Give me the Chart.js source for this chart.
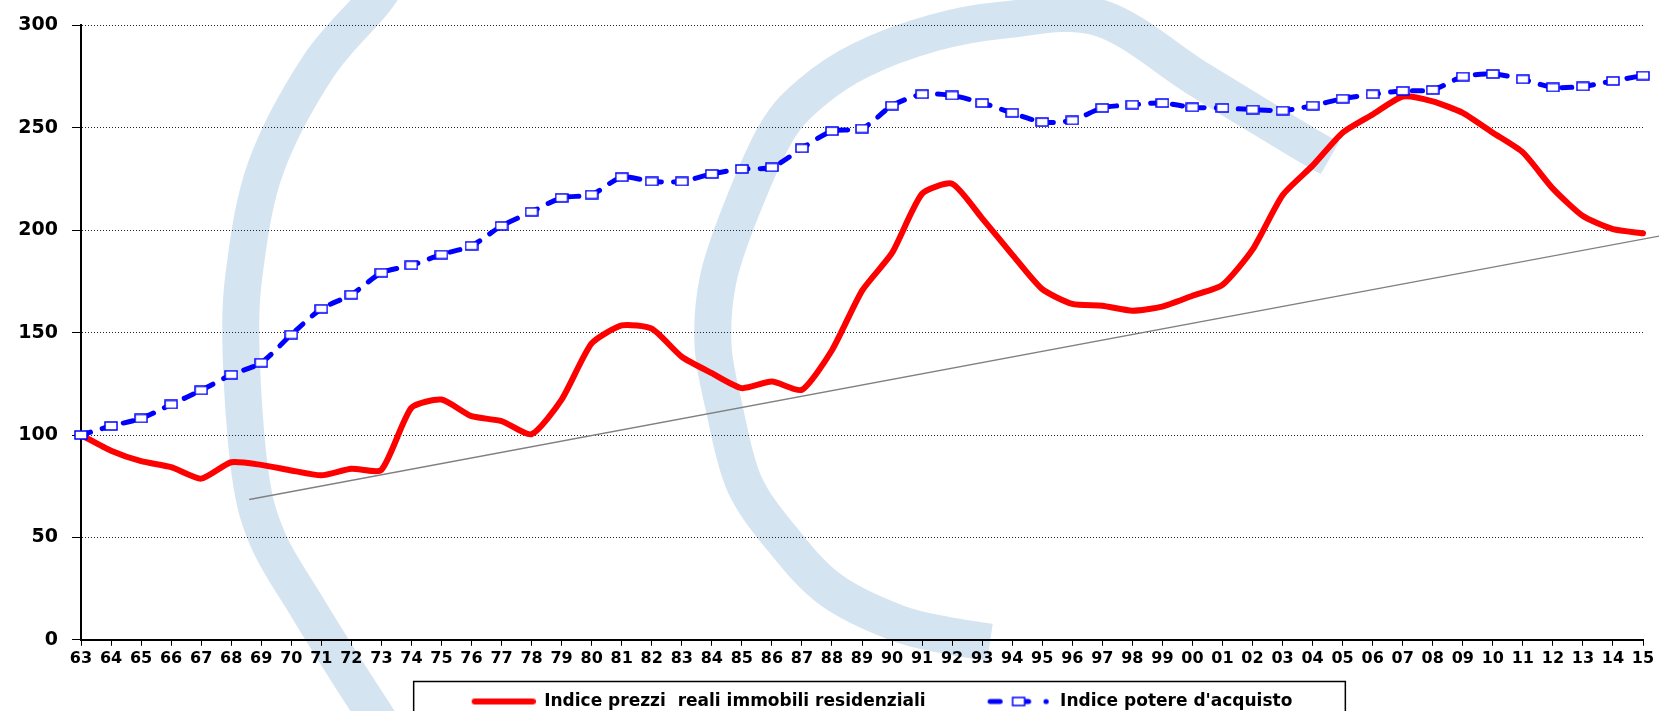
<!DOCTYPE html>
<html>
<head>
<meta charset="utf-8">
<script src="https://cdn.jsdelivr.net/npm/chart.js@4.4.1/dist/chart.umd.min.js"></script>
<style>
  html, body { margin: 0; padding: 0; background: #fff; overflow: hidden; }
  #wrap { width: 1659px; height: 711px; overflow: hidden; }
</style>
</head>
<body>
<div id="wrap"><canvas id="grafico" width="1659" height="720"></canvas></div>
<script>
// anni 1963-2015
const anni = ['63','64','65','66','67','68','69','70','71','72','73','74','75','76','77','78','79',
  '80','81','82','83','84','85','86','87','88','89','90','91','92','93','94','95','96','97','98','99',
  '00','01','02','03','04','05','06','07','08','09','10','11','12','13','14','15'];

const prezziReali = [100, 92.3, 87.2, 84.3, 78.7, 86.7, 85.4, 82.7, 80.3, 83.5, 83.0, 113.3, 117.3, 109.2, 106.8, 100.4,
  117.3, 144.7, 153.5, 151.9, 138.2, 130.2, 122.9, 126.1, 122.1, 141.4, 170.4, 188.9, 217.8, 222.7, 205.8, 188.1, 171.2, 164.0, 163.1, 160.7, 162.7,
  168.0, 173.3, 190.5, 217.1, 231.5, 247.6, 256.5, 265.3, 262.9, 257.3, 247.6, 238.0, 220.3, 206.9, 200.5, 198.5];

const potereAcquisto = [100, 104.4, 108.1, 114.9, 121.8, 129.4, 135.3, 149.0, 161.6, 168.5, 179.2, 182.9, 188.1, 192.4, 202.1, 209.0,
  215.8, 217.4, 225.9, 223.8, 223.8, 227.5, 229.9, 230.7, 240.0, 248.4, 249.6, 260.8, 266.4, 265.8, 262.1, 257.3, 252.8, 253.6, 259.7, 261.3, 262.1,
  260.0, 259.7, 258.9, 258.4, 260.8, 264.2, 266.4, 268.0, 268.5, 275.0, 276.3, 273.7, 269.7, 270.2, 272.9, 275.5];

// retta di tendenza (posizione sull'asse anni, valore)
const trendX = [5.6, 52.6];
const trendY = [68.5, 197.3];

const nomeRosso = 'Indice prezzi  reali immobili residenziali';
const nomeBlu = "Indice potere d'acquisto";

const ROSSO = '#ff0000';
const BLU = '#0000ff';

function marcatore() {
  const c = document.createElement('canvas');
  c.width = 14; c.height = 10;
  const g = c.getContext('2d');
  g.fillStyle = '#fff';
  g.fillRect(1, 1, 12, 8);
  g.strokeStyle = BLU;
  g.lineWidth = 1.5;
  g.strokeRect(1, 1, 12, 8);
  return c;
}

function campioneRosso() {
  const c = document.createElement('canvas');
  c.width = 104; c.height = 8;
  const g = c.getContext('2d');
  g.strokeStyle = ROSSO;
  g.lineWidth = 6;
  g.lineCap = 'round';
  g.beginPath(); g.moveTo(43, 4); g.lineTo(101, 4); g.stroke();
  return c;
}

function campioneBlu() {
  const c = document.createElement('canvas');
  c.width = 104; c.height = 14;
  const g = c.getContext('2d');
  g.strokeStyle = BLU; g.fillStyle = BLU;
  g.lineWidth = 5; g.lineCap = 'round';
  g.beginPath(); g.moveTo(42.5, 7); g.lineTo(52.5, 7); g.stroke();
  g.beginPath(); g.moveTo(76, 7); g.lineTo(81, 7); g.stroke();
  g.beginPath(); g.arc(98.5, 7, 2.6, 0, Math.PI * 2); g.fill();
  g.fillStyle = '#fff';
  g.fillRect(65, 3, 12, 8);
  g.lineWidth = 1.5;
  g.strokeRect(65, 3, 12, 8);
  return c;
}

// logo in filigrana
const arco1 = [[400,-40],[375,0],[318,67],[266,167],[245,267],[241,350],[250,473],[268,540],[307,607],[348,673],[385,730]];
const arco2 = [[990,642],[950,636],[897,623],[831,590],[783,540],[744,483],[724,407],[713,345],[718,280],[740,213],[776,133],
  [811,93],[861,60],[933,33],[1004,20],[1100,18],[1200,80],[1300,141],[1330,158]];

function curva(ctx, p) {
  ctx.beginPath();
  ctx.moveTo(p[0][0], p[0][1]);
  for (let i = 0; i < p.length - 1; i++) {
    const a = p[i - 1] || p[i], b = p[i], c = p[i + 1], d = p[i + 2] || c;
    ctx.bezierCurveTo(b[0] + (c[0] - a[0]) / 6, b[1] + (c[1] - a[1]) / 6,
                      c[0] - (d[0] - b[0]) / 6, c[1] - (d[1] - b[1]) / 6, c[0], c[1]);
  }
  ctx.stroke();
}

const sfondo = {
  id: 'sfondo',
  beforeDraw(chart) {
    const ctx = chart.ctx;
    ctx.save();
    ctx.fillStyle = '#fff';
    ctx.fillRect(0, 0, chart.width, chart.height);
    ctx.strokeStyle = '#d5e4f1';
    ctx.lineWidth = 37;
    ctx.lineCap = 'butt';
    curva(ctx, arco1);
    curva(ctx, arco2);
    // riquadro legenda
    const hb = chart.legend.legendHitBoxes;
    if (hb && hb.length === 2) {
      const x1 = hb[0].left + 40 - 58;
      const x2 = hb[1].left + hb[1].width + 53;
      const y1 = hb[0].top + hb[0].height / 2 - 20;
      ctx.fillStyle = '#fff';
      ctx.fillRect(x1, y1, x2 - x1, chart.height - y1 + 10);
      ctx.strokeStyle = '#000';
      ctx.lineWidth = 1.5;
      ctx.strokeRect(x1, y1, x2 - x1, chart.height - y1 + 10);
    }
    ctx.restore();
  }
};

new Chart(document.getElementById('grafico').getContext('2d'), {
  type: 'line',
  data: {
    labels: anni,
    datasets: [
      {
        label: nomeBlu,
        data: potereAcquisto,
        borderColor: BLU,
        borderWidth: 5,
        borderDash: [10, 12],
        borderCapStyle: 'round',
        tension: 0.25,
        pointStyle: marcatore(),
        pointRadius: 6,
        fill: false
      },
      {
        label: nomeRosso,
        data: prezziReali,
        borderColor: ROSSO,
        borderWidth: 6,
        borderJoinStyle: 'round',
        borderCapStyle: 'round',
        tension: 0.2,
        pointRadius: 0,
        fill: false
      },
      {
        label: 'tendenza',
        data: trendX.map((x, i) => ({ x: x, y: trendY[i] })),
        xAxisID: 'xTrend',
        borderColor: '#808080',
        borderWidth: 1.3,
        pointRadius: 0,
        tension: 0,
        clip: false,
        fill: false
      }
    ]
  },
  options: {
    responsive: false,
    animation: false,
    devicePixelRatio: 1,
    layout: { padding: { top: 21, right: 16, left: 0, bottom: 0 } },
    scales: {
      x: {
        type: 'category',
        offset: false,
        ticks: {
          autoSkip: false,
          maxRotation: 0,
          minRotation: 0,
          padding: 3,
          color: '#000',
          font: { family: 'DejaVu Sans', size: 16, weight: 'bold' }
        },
        grid: { drawOnChartArea: false, drawTicks: true, tickLength: 6, color: '#000', tickColor: '#000' },
        border: { color: '#000', width: 2 }
      },
      xTrend: {
        type: 'linear',
        display: false,
        min: 0,
        max: 52
      },
      y: {
        min: 0,
        max: 300,
        ticks: {
          stepSize: 50,
          padding: 14,
          color: '#000',
          font: { family: 'DejaVu Sans', size: 19, weight: 'bold' }
        },
        grid: { color: '#222', lineWidth: 1, tickLength: 9, tickColor: '#000', tickBorderDash: [] },
        border: { color: '#000', width: 2, dash: [1, 2] },
        afterFit(s) { s.width = 81; }
      }
    },
    plugins: {
      tooltip: { enabled: false },
      legend: {
        position: 'bottom',
        fullSize: false,
        onClick: null,
        labels: {
          usePointStyle: true,
          pointStyleWidth: 104,
          padding: 22,
          color: '#000',
          font: { family: 'DejaVu Sans', size: 17, weight: 'bold' },
          generateLabels: () => [
            { text: nomeRosso, pointStyle: campioneRosso(), fillStyle: ROSSO, strokeStyle: ROSSO, lineWidth: 0, hidden: false, datasetIndex: 1, fontColor: '#000' },
            { text: nomeBlu, pointStyle: campioneBlu(), fillStyle: BLU, strokeStyle: BLU, lineWidth: 0, hidden: false, datasetIndex: 0, fontColor: '#000' }
          ]
        }
      }
    }
  },
  plugins: [sfondo]
});
</script>
</body>
</html>
